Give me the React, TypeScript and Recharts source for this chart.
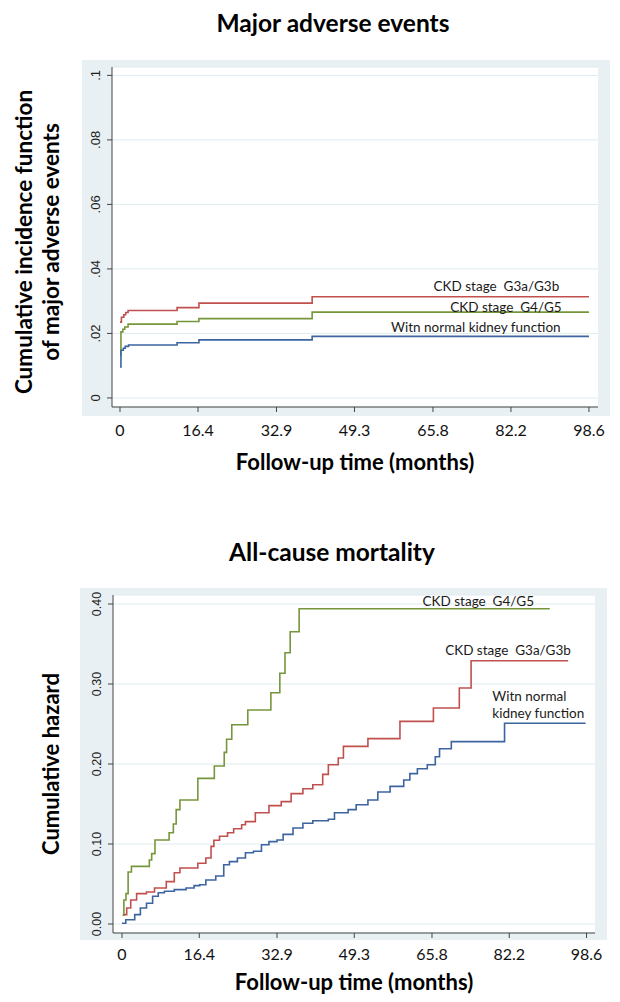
import React from "react";
import { LineChart, Line, XAxis, YAxis, CartesianGrid, ReferenceDot } from "recharts";

// ---------- Data ----------
const xTicks = [0, 16.4, 32.9, 49.3, 65.8, 82.2, 98.6];

const maeYTicks = [0, 0.02, 0.04, 0.06, 0.08, 0.1];
const maeYTickLabels = ["0", ".02", ".04", ".06", ".08", ".1"];

const acmYTicks = [0, 0.1, 0.2, 0.3, 0.4];
const acmYTickLabels = ["0.00", "0.10", "0.20", "0.30", "0.40"];

const seriesNames = ["CKD stage  G3a/G3b", "CKD stage  G4/G5", "Witn normal kidney function"];

// Major adverse events: cumulative incidence function
const maeG3 = [
  { t: 0, v: 0.0235 }, { t: 0.3, v: 0.025 }, { t: 0.8, v: 0.0258 }, { t: 1.2, v: 0.0265 },
  { t: 1.7, v: 0.0271 }, { t: 12.0, v: 0.028 }, { t: 16.6, v: 0.0294 }, { t: 40.4, v: 0.0314 },
  { t: 98.6, v: 0.0314 },
];
const maeG4 = [
  { t: 0, v: 0.0133 }, { t: 0.2, v: 0.0205 }, { t: 0.6, v: 0.0213 }, { t: 1.0, v: 0.022 },
  { t: 1.7, v: 0.0229 }, { t: 12.0, v: 0.0237 }, { t: 16.6, v: 0.0246 }, { t: 40.4, v: 0.0266 },
  { t: 98.6, v: 0.0266 },
];
const maeNormal = [
  { t: 0, v: 0.0096 }, { t: 0.2, v: 0.0148 }, { t: 0.7, v: 0.0154 }, { t: 1.1, v: 0.016 },
  { t: 1.8, v: 0.0164 }, { t: 12.0, v: 0.0171 }, { t: 16.6, v: 0.018 }, { t: 40.4, v: 0.0191 },
  { t: 98.6, v: 0.0191 },
];

// All-cause mortality: cumulative hazard
const acmG4 = [
  { t: 0.1, v: 0.011 }, { t: 0.4, v: 0.03 }, { t: 0.85, v: 0.038 }, { t: 1.3, v: 0.065 },
  { t: 2.0, v: 0.072 }, { t: 5.8, v: 0.08 }, { t: 6.3, v: 0.088 }, { t: 7.0, v: 0.105 },
  { t: 10.0, v: 0.114 }, { t: 10.9, v: 0.125 }, { t: 11.5, v: 0.143 }, { t: 12.3, v: 0.155 },
  { t: 16.1, v: 0.182 }, { t: 19.6, v: 0.1975 }, { t: 21.7, v: 0.2145 }, { t: 22.2, v: 0.231 },
  { t: 23.3, v: 0.249 }, { t: 26.7, v: 0.2675 }, { t: 31.6, v: 0.289 }, { t: 33.5, v: 0.3134 },
  { t: 34.6, v: 0.339 }, { t: 35.7, v: 0.3654 }, { t: 37.6, v: 0.394 }, { t: 90.8, v: 0.394 },
];
const acmG3 = [
  { t: 0.4, v: 0.0117 }, { t: 1.0, v: 0.02 }, { t: 1.85, v: 0.03 }, { t: 3.1, v: 0.038 },
  { t: 5.2, v: 0.04 }, { t: 6.9, v: 0.045 }, { t: 9.4, v: 0.053 }, { t: 11.1, v: 0.064 },
  { t: 12.3, v: 0.07 }, { t: 16.1, v: 0.076 }, { t: 17.8, v: 0.0825 }, { t: 18.9, v: 0.097 },
  { t: 19.5, v: 0.1046 }, { t: 20.7, v: 0.1096 }, { t: 22.4, v: 0.114 }, { t: 23.7, v: 0.119 },
  { t: 25.4, v: 0.124 }, { t: 26.2, v: 0.128 }, { t: 28.3, v: 0.139 }, { t: 31.2, v: 0.148 },
  { t: 33.8, v: 0.153 }, { t: 35.9, v: 0.163 }, { t: 38.4, v: 0.169 }, { t: 40.5, v: 0.174 },
  { t: 42.6, v: 0.187 }, { t: 43.8, v: 0.199 }, { t: 45.9, v: 0.2075 }, { t: 47.0, v: 0.222 },
  { t: 52.2, v: 0.2317 }, { t: 59.0, v: 0.2533 }, { t: 66.1, v: 0.27 }, { t: 71.6, v: 0.295 },
  { t: 74.1, v: 0.329 }, { t: 94.7, v: 0.329 },
];
const acmNormal = [
  { t: 0, v: 0.001 }, { t: 0.8, v: 0.0054 }, { t: 2.7, v: 0.0117 }, { t: 3.9, v: 0.02 },
  { t: 5.2, v: 0.026 }, { t: 6.5, v: 0.0346 }, { t: 7.7, v: 0.039 }, { t: 9.0, v: 0.041 },
  { t: 11.1, v: 0.043 }, { t: 13.6, v: 0.045 }, { t: 15.3, v: 0.048 }, { t: 16.5, v: 0.049 },
  { t: 17.8, v: 0.055 }, { t: 19.9, v: 0.06 }, { t: 21.6, v: 0.074 }, { t: 22.8, v: 0.078 },
  { t: 24.5, v: 0.0825 }, { t: 26.2, v: 0.089 }, { t: 27.9, v: 0.091 }, { t: 29.6, v: 0.099 },
  { t: 31.2, v: 0.103 }, { t: 32.9, v: 0.105 }, { t: 34.2, v: 0.112 }, { t: 36.3, v: 0.12 },
  { t: 38.4, v: 0.126 }, { t: 40.5, v: 0.129 }, { t: 43.8, v: 0.131 }, { t: 45.1, v: 0.139 },
  { t: 48.0, v: 0.143 }, { t: 49.7, v: 0.149 }, { t: 52.2, v: 0.155 }, { t: 54.3, v: 0.165 },
  { t: 56.9, v: 0.172 }, { t: 59.8, v: 0.18 }, { t: 61.1, v: 0.188 }, { t: 62.7, v: 0.194 },
  { t: 64.8, v: 0.199 }, { t: 66.5, v: 0.209 }, { t: 67.4, v: 0.219 }, { t: 69.9, v: 0.228 },
  { t: 81.2, v: 0.251 }, { t: 98.4, v: 0.251 },
];

// ---------- Styles ----------
const RED = "#c0504d";
const GREEN = "#76963c";
const BLUE = "#3c64a0";
const PANEL = "#e8f0f3";
const GRID = "#e0ebf0";
const AXIS = "#444";
const CAL = "Lato, 'Open Sans', sans-serif";
const ARIAL = "'Liberation Sans', Arial, sans-serif";

const makeYTick = (ticks: number[], labels: string[], fontSize: number) => (props: any) => {
  const { x, y, payload } = props;
  const i = ticks.findIndex((t) => Math.abs(t - payload.value) < 1e-9);
  const label = i >= 0 ? labels[i] : String(payload.value);
  return (
    <text
      x={x}
      y={y}
      transform={`rotate(-90, ${x}, ${y})`}
      textAnchor="middle"
      dominantBaseline="central"
      fontFamily={ARIAL}
      fontSize={fontSize}
      fill="#222"
    >
      {label}
    </text>
  );
};

const textLabel = (lines: string[], anchor: "start" | "end", lh: number) => (p: any) => (
  <text
    x={p.cx}
    y={p.cy}
    textAnchor={anchor}
    dominantBaseline="central"
    fontFamily={CAL}
    fontSize={13.5}
    fill="#1a1a1a"
    style={{ whiteSpace: "pre" }}
    xmlSpace="preserve"
  >
    {lines.map((l, i) => (
      <tspan key={i} x={p.cx} dy={i === 0 ? 0 : lh}>
        {l}
      </tspan>
    ))}
  </text>
);

const abs = (s: React.CSSProperties): React.CSSProperties => ({ position: "absolute", ...s });

export default function App() {
  return (
    <div style={abs({ left: 0, top: 0, width: 620, height: 1002, background: "#fff", overflow: "hidden" })}>
      {/* ---------- Top chart ---------- */}
      <div style={abs({ left: 82, top: 60, width: 528, height: 356, background: PANEL })} />
      <div
        style={abs({
          left: 0, top: 10, width: 666, textAlign: "center", fontFamily: CAL, fontWeight: 700,
          fontSize: 24.5, lineHeight: "26px", color: "#000",
        })}
      >
        Major adverse events
      </div>
      <div style={abs({ left: 0, top: 0 })}>
        <LineChart width={620} height={480} margin={{ top: 67, right: 22, left: 0, bottom: 43 }}>
          <CartesianGrid vertical={false} stroke={GRID} fill="#ffffff" />
          <XAxis
            type="number"
            dataKey="t"
            domain={[-1.68, 100.5]}
            ticks={xTicks}
            allowDataOverflow
            height={30}
            tickSize={5}
            tickMargin={13}
            axisLine={{ stroke: AXIS }}
            tickLine={{ stroke: AXIS }}
            tick={{ fontFamily: CAL, fontSize: 16, fill: "#111" }}
          />
          <YAxis
            type="number"
            domain={[-0.0028, 0.1026]}
            ticks={maeYTicks}
            allowDataOverflow
            width={112}
            tickSize={5}
            tickMargin={11}
            axisLine={{ stroke: AXIS }}
            tickLine={{ stroke: AXIS }}
            tick={makeYTick(maeYTicks, maeYTickLabels, 13)}
          />
          <Line data={maeG3} dataKey="v" type="stepAfter" stroke={RED} strokeWidth={1.6} dot={false} isAnimationActive={false} />
          <Line data={maeG4} dataKey="v" type="stepAfter" stroke={GREEN} strokeWidth={1.6} dot={false} isAnimationActive={false} />
          <Line data={maeNormal} dataKey="v" type="stepAfter" stroke={BLUE} strokeWidth={1.6} dot={false} isAnimationActive={false} />
          <ReferenceDot x={92.35} y={0.0348} r={0} shape={textLabel([seriesNames[0]], "end", 16)} />
          <ReferenceDot x={92.85} y={0.0283} r={0} shape={textLabel([seriesNames[1]], "end", 16)} />
          <ReferenceDot x={92.64} y={0.0219} r={0} shape={textLabel([seriesNames[2]], "end", 16)} />
        </LineChart>
      </div>
      <div
        style={abs({
          left: 112, top: 451, width: 486, textAlign: "center", fontFamily: CAL, fontWeight: 700,
          fontSize: 22, lineHeight: "22px", color: "#000",
        })}
      >
        Follow-up time (months)
      </div>
      <div
        style={abs({
          left: 37, top: 242, transform: "translate(-50%, -50%) rotate(-90deg)", whiteSpace: "nowrap",
          textAlign: "center", fontFamily: CAL, fontWeight: 700, fontSize: 22.5, lineHeight: "27px", color: "#000",
        })}
      >
        Cumulative incidence function
        <br />
        of major adverse events
      </div>

      {/* ---------- Bottom chart ---------- */}
      <div style={abs({ left: 80, top: 588, width: 527, height: 352, background: PANEL })} />
      <div
        style={abs({
          left: 0, top: 539, width: 664, textAlign: "center", fontFamily: CAL, fontWeight: 700,
          fontSize: 24.5, lineHeight: "26px", color: "#000",
        })}
      >
        All-cause mortality
      </div>
      <div style={abs({ left: 0, top: 520 })}>
        <LineChart width={620} height={482} margin={{ top: 75, right: 25, left: 0, bottom: 39 }}>
          <CartesianGrid vertical={false} stroke={GRID} fill="#ffffff" />
          <XAxis
            type="number"
            dataKey="t"
            domain={[-1.91, 100.4]}
            ticks={xTicks}
            allowDataOverflow
            height={30}
            tickSize={5}
            tickMargin={11}
            axisLine={{ stroke: AXIS }}
            tickLine={{ stroke: AXIS }}
            tick={{ fontFamily: CAL, fontSize: 16, fill: "#111" }}
          />
          <YAxis
            type="number"
            domain={[-0.01125, 0.41125]}
            ticks={acmYTicks}
            allowDataOverflow
            width={113}
            tickSize={5}
            tickMargin={11}
            axisLine={{ stroke: AXIS }}
            tickLine={{ stroke: AXIS }}
            tick={makeYTick(acmYTicks, acmYTickLabels, 12.5)}
          />
          <Line data={acmG4} dataKey="v" type="stepAfter" stroke={GREEN} strokeWidth={1.6} dot={false} isAnimationActive={false} />
          <Line data={acmG3} dataKey="v" type="stepAfter" stroke={RED} strokeWidth={1.6} dot={false} isAnimationActive={false} />
          <Line data={acmNormal} dataKey="v" type="stepAfter" stroke={BLUE} strokeWidth={1.6} dot={false} isAnimationActive={false} />
          <ReferenceDot x={63.8} y={0.404} r={0} shape={textLabel([seriesNames[1]], "start", 16)} />
          <ReferenceDot x={68.6} y={0.3425} r={0} shape={textLabel([seriesNames[0]], "start", 16)} />
          <ReferenceDot x={78.6} y={0.285} r={0} shape={textLabel(["Witn normal", "kidney function"], "start", 16.7)} />
        </LineChart>
      </div>
      <div
        style={abs({
          left: 113, top: 971, width: 482, textAlign: "center", fontFamily: CAL, fontWeight: 700,
          fontSize: 22, lineHeight: "22px", color: "#000",
        })}
      >
        Follow-up time (months)
      </div>
      <div
        style={abs({
          left: 51, top: 764, transform: "translate(-50%, -50%) rotate(-90deg)", whiteSpace: "nowrap",
          fontFamily: CAL, fontWeight: 700, fontSize: 22, lineHeight: "26px", color: "#000",
        })}
      >
        Cumulative hazard
      </div>
    </div>
  );
}
